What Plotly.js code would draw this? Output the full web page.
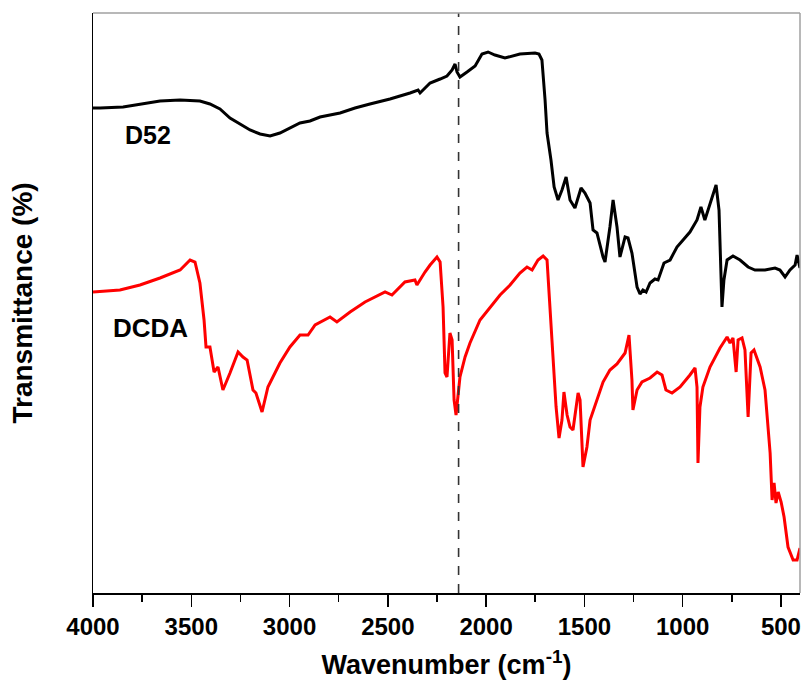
<!DOCTYPE html>
<html>
<head>
<meta charset="utf-8">
<script src="https://cdn.plot.ly/plotly-3.0.1.min.js"></script>
<style>
  html, body { margin: 0; padding: 0; background: #fff; }
  #chart { width: 804px; height: 696px; }
</style>
</head>
<body>
<div id="chart"></div>
<script>
// Wavenumber (cm-1) and transmittance (arbitrary units, offset spectra)
const d52Wavenumber = [4000,3964,3847,3761,3659,3557,3456,3405,3354,3303,3252,3201,3150,3099,3049,2998,2947,2896,2845,2743,2667,2591,2489,2387,2346,2336,2285,2234,2199,2173,2158,2148,2133,2097,2056,2021,1990,1955,1904,1828,1751,1731,1716,1700,1690,1670,1654,1634,1614,1593,1573,1548,1517,1497,1471,1456,1436,1405,1395,1370,1354,1334,1319,1293,1278,1258,1232,1217,1202,1186,1166,1141,1125,1095,1064,1029,998,963,927,907,887,861,830,815,805,800,790,774,744,708,667,632,581,530,505,479,454,428,418,403];
const d52Transmittance = [485,485,486,489,492,493,492,489,484,475,469,463,459,457,460,465,470,472,476,480,485,489,494,500,503,500,510,514,517,523,529,521,516,521,527,539,541,538,535,539,540,539,533,493,460,433,406,393,403,416,393,385,405,400,390,363,360,336,331,366,393,366,336,356,355,340,306,299,303,301,310,314,313,330,333,346,353,361,373,386,373,390,408,383,323,286,313,333,337,333,326,323,323,325,323,316,323,328,338,325];

const dcdaWavenumber = [4000,3863,3761,3659,3557,3506,3481,3456,3435,3425,3405,3384,3364,3339,3303,3262,3237,3216,3186,3171,3140,3110,3049,2998,2947,2906,2870,2794,2759,2692,2616,2514,2479,2413,2362,2352,2311,2285,2250,2234,2219,2209,2199,2184,2173,2163,2153,2143,2133,2107,2082,2031,1980,1929,1878,1828,1792,1766,1736,1710,1690,1675,1659,1644,1629,1614,1604,1588,1573,1558,1532,1522,1507,1487,1471,1436,1405,1370,1334,1293,1273,1258,1253,1232,1207,1166,1130,1105,1085,1054,1013,963,937,927,922,912,897,861,810,774,759,744,728,718,698,683,667,652,637,606,581,555,545,535,525,514,499,484,464,438,418,403];
const dcdaTransmittance = [301,303,308,315,323,333,331,310,273,246,246,221,226,203,220,241,236,233,203,200,181,206,230,246,258,258,268,276,271,281,291,301,298,311,313,308,321,328,336,331,286,220,216,260,253,193,178,196,216,236,250,273,286,298,308,320,326,323,333,337,333,286,236,186,155,173,201,178,166,163,200,193,126,146,173,193,211,223,229,240,258,213,183,203,211,215,221,218,203,200,206,218,225,206,130,186,206,226,245,256,250,255,221,253,255,243,176,240,243,226,203,140,93,110,90,101,91,76,46,33,33,45];

const seriesNames = ["D52", "DCDA"];
const seriesColors = ["#000000", "#ff0000"];
const markerWavenumber = 2140;
const xTickValues = [4000,3500,3000,2500,2000,1500,1000,500];

const font = "Arial, 'Liberation Sans', sans-serif";

const traces = [
  { x: d52Wavenumber, y: d52Transmittance, name: seriesNames[0], type: "scatter", mode: "lines",
    line: { color: seriesColors[0], width: 3 }, hoverinfo: "skip" },
  { x: dcdaWavenumber, y: dcdaTransmittance, name: seriesNames[1], type: "scatter", mode: "lines",
    line: { color: seriesColors[1], width: 3 }, hoverinfo: "skip" }
];

const layout = {
  width: 804, height: 696,
  margin: { l: 93, r: 4, t: 13, b: 103 },
  paper_bgcolor: "#ffffff", plot_bgcolor: "#ffffff",
  showlegend: false,
  font: { family: font, color: "#000" },
  xaxis: {
    range: [4000, 403],
    tickvals: xTickValues,
    ticktext: xTickValues.map(String),
    ticks: "outside", ticklen: 12, tickwidth: 1.5, tickcolor: "#000",
    minor: { ticks: "outside", ticklen: 7, tickwidth: 1.5, tickcolor: "#000", dtick: 250, showgrid: false },
    showline: true, linecolor: "#000", linewidth: 1.5,
    showgrid: false, zeroline: false,
    tickfont: { family: font, size: 24, weight: "bold", color: "#000" },
    title: { text: "Wavenumber (cm<sup>-1</sup>)", font: { family: font, size: 27, weight: "bold", color: "#000" }, standoff: 16 }
  },
  yaxis: {
    range: [0, 580],
    showticklabels: false, ticks: "",
    showline: true, linecolor: "#000", linewidth: 1.5,
    showgrid: false, zeroline: false,
    title: { text: "Transmittance (%)", font: { family: font, size: 28, weight: "bold", color: "#000" }, standoff: 50 }
  },
  shapes: [
    { type: "line", xref: "x", yref: "paper", x0: markerWavenumber, x1: markerWavenumber, y0: 0, y1: 1,
      line: { color: "#333", width: 1.6, dash: "dash" } },
    { type: "line", xref: "paper", yref: "paper", x0: 0, x1: 1, y0: 1, y1: 1, line: { color: "#a0a0a0", width: 1.5 } },
    { type: "line", xref: "paper", yref: "paper", x0: 1, x1: 1, y0: 0, y1: 1, line: { color: "#a0a0a0", width: 1.5 } }
  ],
  annotations: [
    { x: 3720, y: 458, xref: "x", yref: "y", text: seriesNames[0], showarrow: false,
      font: { family: font, size: 25, weight: "bold", color: "#000" } },
    { x: 3705, y: 265, xref: "x", yref: "y", text: seriesNames[1], showarrow: false,
      font: { family: font, size: 26, weight: "bold", color: "#000" } }
  ]
};

Plotly.newPlot("chart", traces, layout, { displayModeBar: false, staticPlot: true });
</script>
</body>
</html>
